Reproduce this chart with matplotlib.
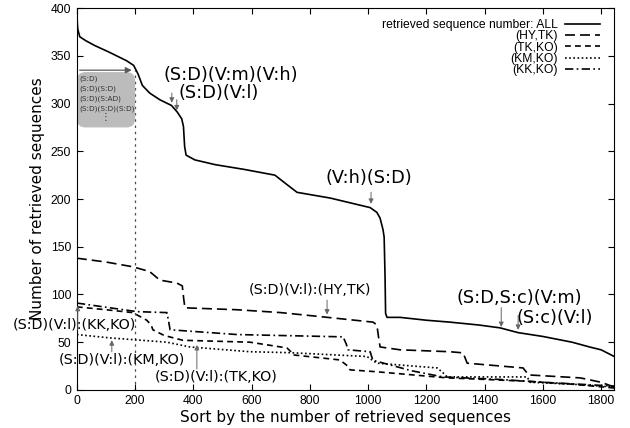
import matplotlib
matplotlib.use("Agg")
import matplotlib.pyplot as plt
from matplotlib.patches import FancyBboxPatch

# series (x = rank, y = number of retrieved sequences)
all_x = [0, 3, 10, 30, 60, 110, 170, 195, 210, 225, 250, 285, 325, 345, 360, 366, 370, 375, 405, 475,
         575, 680, 705, 756, 870, 1007, 1030, 1041, 1051, 1055, 1058, 1060, 1065, 1110, 1200, 1281,
         1380, 1453, 1515, 1600, 1700, 1760, 1800, 1845]
all_y = [392, 378, 370, 366, 361, 354, 345, 340, 331, 319, 311, 304, 298, 291, 284, 276, 255, 246, 241, 236,
         231, 225, 219, 207, 201, 191, 186, 180, 168, 160, 120, 80, 76, 76, 73, 71,
         68, 65, 60, 56, 50, 45, 42, 35]

hy_x = [0, 100, 192, 250, 285, 343, 362, 367, 371, 550, 700, 845, 1017, 1030, 1036, 1041, 1110, 1281,
        1326, 1335, 1340, 1532, 1545, 1550, 1728, 1800, 1845]
hy_y = [138, 134, 129, 124, 115, 112, 109, 95, 86, 84, 81, 76.5, 71, 68, 55, 45, 42, 40,
        38.8, 32, 28, 23, 18, 15.7, 12.6, 8, 3]

tk_x = [0, 100, 192, 240, 255, 261, 300, 364, 594, 721, 735, 742, 903, 930, 938, 1030, 1271, 1400,
        1550, 1700, 1845]
tk_y = [87, 84, 81, 73, 68, 63, 57, 52, 50, 44, 40, 36.7, 31.4, 25, 21, 19, 12.6, 11,
        9, 6, 2]

km_x = [0, 113, 309, 388, 594, 732, 996, 1020, 1030, 1237, 1257, 1271, 1546, 1556, 1700, 1845]
km_y = [58, 54.5, 50, 45, 40, 39, 35, 30, 28, 23, 18, 13.6, 13.6, 8, 6, 3]

kk_x = [0, 206, 309, 315, 320, 550, 700, 914, 925, 931, 1007, 1012, 1017, 1150, 1257, 1450, 1600, 1845]
kk_y = [91, 82, 81, 72, 63, 58, 57, 55.6, 48, 42, 40, 35, 31, 20, 13.6, 11, 8, 4]

labels = ["retrieved sequence number: ALL", "(HY,TK)", "(TK,KO)", "(KM,KO)", "(KK,KO)"]

# big annotations: text, text pos, arrow x, arrow from y -> to y
big_notes = [
    ("(S:D)(V:m)(V:h)", 529, 330, 326, 314, 298),
    ("(S:D)(V:l)", 488, 311, 343, 307, 290),
    ("(V:h)(S:D)", 1003, 222, 1010, 210, 192),
    ("(S:D,S:c)(V:m)", 1518, 96, 1457, 89, 63),
    ("(S:c)(V:l)", 1642, 75, 1515, 81, 60),
]
small_notes = [
    ("(S:D)(V:l):(HY,TK)", 800, 104.5, 859, 97, 76),
    ("(S:D)(V:l):(KK,KO)", -7, 68, 3, 60, 91),
    ("(S:D)(V:l):(KM,KO)", 155, 31.5, 120, 37, 55),
    ("(S:D)(V:l):(TK,KO)", 478, 13.5, 412, 19, 50),
]
box_lines = ["(S:D)", "(S:D)(S:D)", "(S:D)(S:AD)", "(S:D)(S:D)(S:D)"]

fig = plt.figure(figsize=(6.3, 4.28), dpi=100)
ax = fig.add_axes([0.122, 0.089, 0.853, 0.892])

lw = 1.2
ax.plot(all_x, all_y, color="black", lw=lw, label=labels[0])
ax.plot(hy_x, hy_y, color="black", lw=lw, dashes=(6, 3), label=labels[1])
ax.plot(tk_x, tk_y, color="black", lw=lw, dashes=(3.5, 2.5), label=labels[2])
ax.plot(km_x, km_y, color="black", lw=lw, dashes=(1, 1.5), label=labels[3])
ax.plot(kk_x, kk_y, color="black", lw=lw, dashes=(5, 2, 1, 2), label=labels[4])

ax.set_xlim(0, 1845)
ax.set_ylim(0, 400)
ax.set_xticks(range(0, 1801, 200))
ax.set_yticks(range(0, 401, 50))
ax.tick_params(direction="in", length=4, top=True, right=True, labelsize=8.7, pad=4)
for lab in ax.get_xticklabels() + ax.get_yticklabels():
    lab.set_family("Liberation Sans")
ax.set_xlabel("Sort by the number of retrieved sequences", fontsize=11, labelpad=2)
ax.set_ylabel("Number of retrieved sequences", fontsize=11, labelpad=4)

# dotted marker line at 200 and the grey box of top sequences
ax.plot([200, 200], [0, 335], color="0.3", lw=0.9, dashes=(2, 3), zorder=1)
box = FancyBboxPatch((0, 275), 200, 58, boxstyle="round,pad=0,rounding_size=30",
                     mutation_aspect=0.3, facecolor="#bcbcbc", edgecolor="none", zorder=2)
ax.add_patch(box)
for i, t in enumerate(box_lines):
    ax.text(10, 326 - i * 10.5, t, fontsize=5.3, va="center", ha="left", color="0.2", zorder=3)
ax.text(100, 286, "⋮", fontsize=7, va="center", ha="center", color="0.2", zorder=3)
ax.annotate("", xy=(198, 335), xytext=(0, 335),
            arrowprops=dict(arrowstyle="-|>", color="0.35", lw=0.9, mutation_scale=9), zorder=3)

for t, tx, ty, ax_x, y0, y1 in big_notes:
    ax.text(tx, ty, t, fontsize=12.8, ha="center", va="center")
    ax.annotate("", xy=(ax_x, y1), xytext=(ax_x, y0),
                arrowprops=dict(arrowstyle="-|>", color="0.4", lw=0.7, mutation_scale=7))
for t, tx, ty, ax_x, y0, y1 in small_notes:
    ax.text(tx, ty, t, fontsize=10.3, ha="center", va="center")
    ax.annotate("", xy=(ax_x, y1), xytext=(ax_x, y0),
                arrowprops=dict(arrowstyle="-|>", color="0.4", lw=0.7, mutation_scale=7))

ax.legend(loc="upper right", bbox_to_anchor=(0.974, 0.972), frameon=False, markerfirst=False,
          prop={"family": "Liberation Sans", "size": 8.7}, handlelength=2.9, handletextpad=0.6,
          labelspacing=-0.05, borderpad=0, borderaxespad=0)

fig.savefig("out.png", dpi=100)
